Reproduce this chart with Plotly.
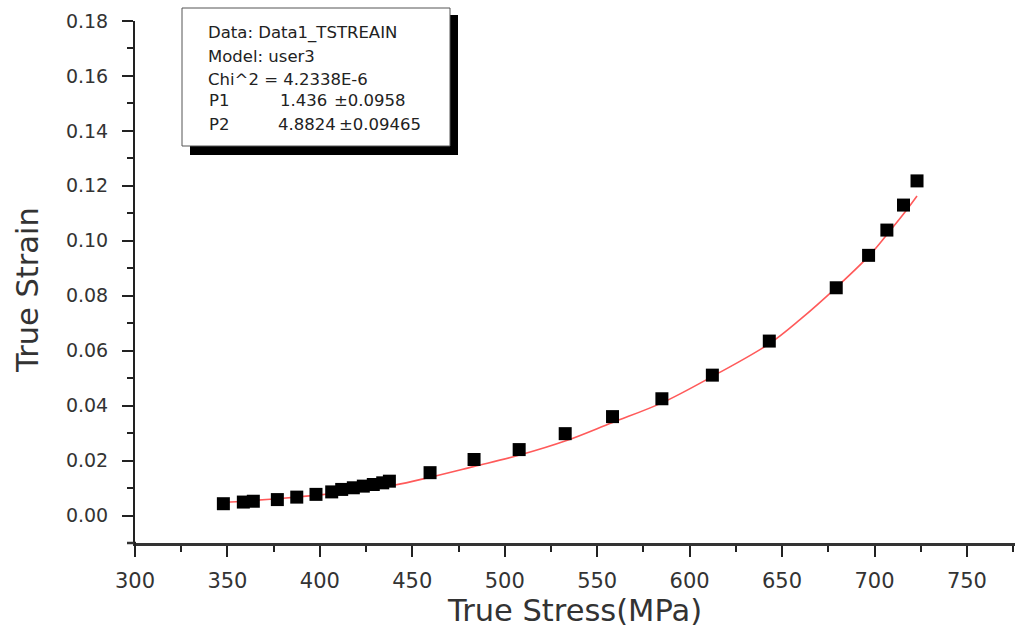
import plotly.graph_objects as go

# ---- data ----
stress = [347.8, 358.6, 364.0, 377.0, 387.5, 397.9, 406.4, 411.8, 418.1, 423.5,
          428.9, 434.0, 437.6, 459.6, 483.4, 507.8, 532.7, 558.3, 585.0, 612.3,
          643.1, 679.3, 696.8, 706.7, 715.7, 723.0]
strain = [0.0043, 0.0049, 0.0052, 0.0058, 0.0067, 0.0077, 0.0086, 0.0095, 0.0101, 0.0107,
          0.0113, 0.0119, 0.0125, 0.0156, 0.0204, 0.0240, 0.0298, 0.0360, 0.0425, 0.0511,
          0.0635, 0.0829, 0.0947, 0.1039, 0.1130, 0.1218]

fit_x = [348, 360, 380, 400, 420, 440, 460, 483, 508, 533, 558, 585, 612, 643, 660,
         679, 697, 707, 716, 723]
fit_y = [0.0048, 0.0053, 0.0063, 0.0075, 0.0090, 0.0110, 0.0140, 0.0178, 0.0220, 0.0272,
         0.0338, 0.0410, 0.0505, 0.0625, 0.0715, 0.0828, 0.0945, 0.1025, 0.1100, 0.1163]

box_lines = ["Data: Data1_TSTREAIN", "Model: user3", "Chi^2 = 4.2338E-6"]
param_names = ["P1", "P2"]
param_values = ["1.436", "4.8824"]
param_errors = ["\u00b10.0958", "\u00b10.09465"]

x_title = "True Stress(MPa)"
y_title = "True Strain"

# ---- layout geometry (pixels) ----
W, H = 1015, 633
L, R, T, B = 135, 0, 21, 90
PW, PH = W - L - R, H - T - B


def px(x):
    return (x - L) / PW


def py(y):
    return (H - B - y) / PH


FONT = "DejaVu Sans"
TXT = "#333333"

fig = go.Figure()
fig.add_trace(go.Scatter(x=fit_x, y=fit_y, mode="lines",
                         line=dict(color="#ff5a5a", width=1.6, shape="spline"),
                         showlegend=False, hoverinfo="skip"))
fig.add_trace(go.Scatter(x=stress, y=strain, mode="markers",
                         marker=dict(symbol="square", size=13, color="black"),
                         showlegend=False))

shapes = []
# shadow and box
shapes.append(dict(type="rect", xref="paper", yref="paper",
                   x0=px(190), x1=px(458), y0=py(155), y1=py(15),
                   fillcolor="black", line=dict(width=0), layer="above"))
shapes.append(dict(type="rect", xref="paper", yref="paper",
                   x0=px(182), x1=px(450), y0=py(146), y1=py(8),
                   fillcolor="white", line=dict(color="#555555", width=1), layer="above"))
# axis extensions
shapes.append(dict(type="line", xref="paper", yref="paper",
                   x0=px(127), x1=px(136), y0=py(543), y1=py(543),
                   line=dict(color="#333333", width=2.5)))
shapes.append(dict(type="line", xref="paper", yref="paper",
                   x0=px(135), x1=px(135), y0=py(542), y1=py(553),
                   line=dict(color="#222222", width=2)))

annotations = []
box_font = dict(family=FONT, size=16.5, color="#222222")
line_y = [33, 56, 79, 101, 124]
for i, t in enumerate(box_lines):
    annotations.append(dict(text=t, xref="paper", yref="paper", x=px(206), y=py(line_y[i]),
                            xanchor="left", yanchor="middle", showarrow=False, font=box_font))
val_x = [278, 276]
err_x = [332, 337]
for i in range(2):
    yy = py(line_y[3 + i])
    annotations.append(dict(text=param_names[i], xref="paper", yref="paper", x=px(207), y=yy,
                            xanchor="left", yanchor="middle", showarrow=False, font=box_font))
    annotations.append(dict(text=param_values[i], xref="paper", yref="paper", x=px(val_x[i]), y=yy,
                            xanchor="left", yanchor="middle", showarrow=False, font=box_font))
    annotations.append(dict(text=param_errors[i], xref="paper", yref="paper", x=px(err_x[i]), y=yy,
                            xanchor="left", yanchor="middle", showarrow=False, font=box_font))

annotations.append(dict(text=x_title, xref="paper", yref="paper", x=px(574), y=py(610),
                        xanchor="center", yanchor="middle", showarrow=False,
                        font=dict(family=FONT, size=30.5, color=TXT)))
annotations.append(dict(text=y_title, xref="paper", yref="paper", x=px(27), y=py(290),
                        xanchor="center", yanchor="middle", showarrow=False, textangle=-90,
                        font=dict(family=FONT, size=30.5, color=TXT)))

fig.update_layout(
    width=W, height=H,
    margin=dict(l=L, r=R, t=T, b=B, pad=0),
    paper_bgcolor="white", plot_bgcolor="white",
    shapes=shapes, annotations=annotations,
    showlegend=False,
)
fig.update_xaxes(range=[300, 776], showgrid=False, zeroline=False,
                 showline=True, linecolor="#333333", linewidth=2.5,
                 tickmode="linear", tick0=300, dtick=50,
                 ticks="outside", ticklen=11, tickwidth=2, tickcolor="#222222",
                 minor=dict(ticks="outside", ticklen=6, tickwidth=2, tickcolor="#222222",
                            tick0=300, dtick=25),
                 tickfont=dict(family=FONT, size=21, color=TXT),
                 ticklabelstandoff=6)
fig.update_yaxes(range=[-0.01, 0.18], showgrid=False, zeroline=False,
                 showline=True, linecolor="#222222", linewidth=2,
                 tickmode="linear", tick0=0, dtick=0.02, tickformat=".2f",
                 ticks="outside", ticklen=11, tickwidth=2, tickcolor="#222222",
                 minor=dict(ticks="outside", ticklen=6, tickwidth=2, tickcolor="#222222",
                            tick0=0, dtick=0.01),
                 tickfont=dict(family=FONT, size=19, color=TXT),
                 ticklabelstandoff=10)

fig.write_html("out.html", config={"displayModeBar": False},
               post_script="document.body.style.margin='0px';document.body.style.overflow='hidden';")
